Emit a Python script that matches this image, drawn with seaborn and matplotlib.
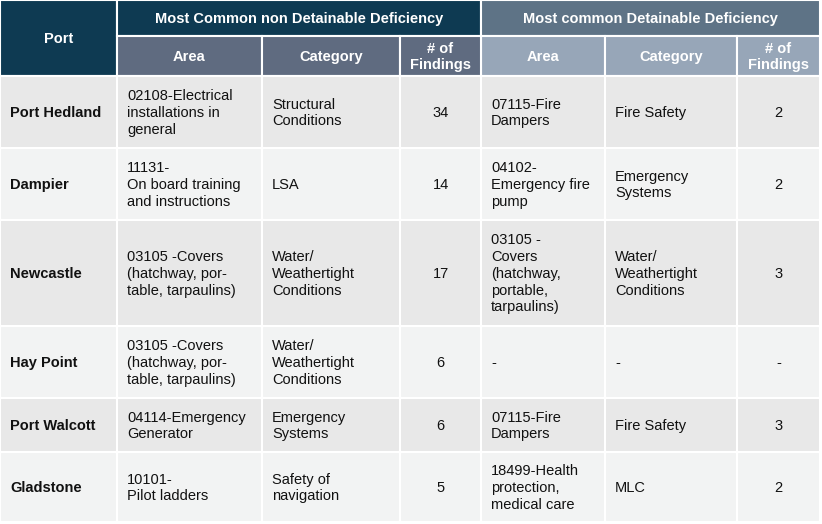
import matplotlib.pyplot as plt
import seaborn as sb
from matplotlib.patches import Rectangle

sb.set_style('white')
plt.rcParams['font.family'] = 'Liberation Sans'

ports = ['Port Hedland', 'Dampier', 'Newcastle', 'Hay Point', 'Port Walcott', 'Gladstone']
nd_area = ['02108-Electrical\ninstallations in\ngeneral',
           '11131-\nOn board training\nand instructions',
           '03105 -Covers\n(hatchway, por-\ntable, tarpaulins)',
           '03105 -Covers\n(hatchway, por-\ntable, tarpaulins)',
           '04114-Emergency\nGenerator',
           '10101-\nPilot ladders']
nd_category = ['Structural\nConditions', 'LSA', 'Water/\nWeathertight\nConditions',
               'Water/\nWeathertight\nConditions', 'Emergency\nSystems', 'Safety of\nnavigation']
nd_findings = ['34', '14', '17', '6', '6', '5']
d_area = ['07115-Fire\nDampers', '04102-\nEmergency fire\npump',
          '03105 -\nCovers\n(hatchway,\nportable,\ntarpaulins)', '-',
          '07115-Fire\nDampers', '18499-Health\nprotection,\nmedical care']
d_category = ['Fire Safety', 'Emergency\nSystems', 'Water/\nWeathertight\nConditions', '-',
              'Fire Safety', 'MLC']
d_findings = ['2', '2', '3', '-', '3', '2']

# layout in pixels
col_x = [0, 117, 262, 400, 481, 605, 737, 820]
row_y = [76, 148, 220, 326, 398, 452, 522]
h1, h2 = 36, 76

dark = '#0e3a52'
right_top = '#5e7386'
sub_left = '#5f6b80'
sub_right = '#97a6b8'
row_cols = ['#e8e8e8', '#f2f3f3']

fig = plt.figure(figsize=(8.22, 5.24), dpi=100)
ax = fig.add_axes([0, 0, 1, 1])
ax.set_xlim(0, 822)
ax.set_ylim(524, 0)
ax.axis('off')


def cell(x0, x1, y0, y1, color, text='', ha='left', bold=False, tcolor='#111111'):
    ax.add_patch(Rectangle((x0, y0), x1 - x0, y1 - y0, facecolor=color,
                           edgecolor='white', linewidth=1.5))
    if ha == 'left':
        tx = x0 + 10
    else:
        tx = (x0 + x1) / 2
    ax.text(tx, (y0 + y1) / 2 + 1, text, ha=ha, va='center', fontsize=10.5,
            fontweight='bold' if bold else 'normal', color=tcolor, linespacing=1.25)


# headers
cell(col_x[0], col_x[1], 0, h2, dark, 'Port', 'center', True, 'white')
cell(col_x[1], col_x[4], 0, h1, dark, 'Most Common non Detainable Deficiency', 'center', True, 'white')
cell(col_x[4], col_x[7], 0, h1, right_top, 'Most common Detainable Deficiency', 'center', True, 'white')
subs = ['Area', 'Category', '# of\nFindings']
for i, s in enumerate(subs):
    cell(col_x[1 + i], col_x[2 + i], h1, h2, sub_left, s, 'center', True, 'white')
    cell(col_x[4 + i], col_x[5 + i], h1, h2, sub_right, s, 'center', True, 'white')

# body
for r, port in enumerate(ports):
    y0, y1 = row_y[r], row_y[r + 1]
    c = row_cols[r % 2]
    vals = [port, nd_area[r], nd_category[r], nd_findings[r], d_area[r], d_category[r], d_findings[r]]
    for j, v in enumerate(vals):
        ha = 'center' if j in (3, 6) else 'left'
        cell(col_x[j], col_x[j + 1], y0, y1, c, v, ha, j == 0)

fig.savefig('out.png', dpi=100)
